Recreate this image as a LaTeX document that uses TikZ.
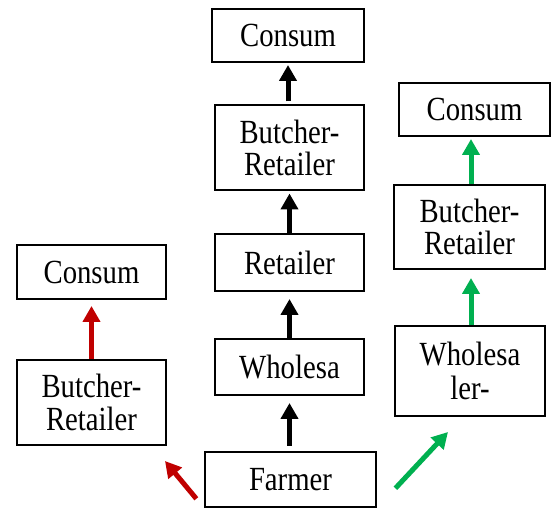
\documentclass[tikz,border=0pt]{standalone}
\usepackage{fontspec}
\setmainfont{Liberation Serif}[FakeStretch=0.85]
\usetikzlibrary{arrows.meta}
\definecolor{chainred}{RGB}{192,0,0}
\definecolor{chaingreen}{RGB}{0,176,80}
\tikzset{
  stage/.style={draw, line width=1pt, inner sep=0pt, align=center,
    minimum width=74.5pt, font=\fontsize{16.9}{16.4}\selectfont},
  flow/.style={line width=2.5pt, -{Triangle[width=8.5pt,length=8pt]}},
}
\begin{document}
\begin{tikzpicture}[x=0.5pt, y=-0.5pt]
  \useasboundingbox (0,0) rectangle (553,508);

  % middle chain
  \node[stage, minimum width=76pt, minimum height=26.5pt] (cco) at (288,35.5) {Consum};
  \node[stage, minimum height=42.5pt] (cbr) at (289.5,148) {Butcher-\\Retailer};
  \node[stage, minimum height=28.5pt] (cre) at (289.5,262.5) {Retailer};
  \node[stage, minimum height=28pt] (cwh) at (289.5,367) {Wholesa};
  \node[stage, minimum width=85.5pt, minimum height=27.5pt] (far) at (290.5,479.5) {Farmer};

  % right chain
  \node[stage, minimum width=75.5pt, minimum height=26.5pt] (rco) at (474.5,109.5) {Consum};
  \node[stage, minimum width=75.5pt, minimum height=42pt] (rbr) at (469.5,227) {Butcher-\\Retailer};
  \node[stage, minimum width=75pt, minimum height=45pt,
    font=\fontsize{16.9}{17.2}\selectfont] (rwh) at (470,371) {Wholesa\\ler-};

  % left chain
  \node[stage, minimum height=27pt] (lco) at (91.5,272) {Consum};
  \node[stage, minimum height=42.5pt] (lbr) at (91.5,402.5) {Butcher-\\Retailer};

  \coordinate (rtip) at (165,461);
  \coordinate (gtip) at (448,432);

  \draw[flow, shorten <=1.5pt, shorten >=1pt] (cbr.north -| cco.south) -- (cco.south);
  \draw[flow, shorten >=1pt] (cre.north) -- (cbr.south);
  \draw[flow, shorten >=3.5pt] (cwh.north) -- (cre.south);
  \draw[flow, shorten <=2.5pt, shorten >=3.5pt] (far.north -| cwh.south) -- (cwh.south);

  \draw[flow, chaingreen, shorten >=1pt] (rbr.north -| 471,0) -- (rco.south -| 471,0);
  \draw[flow, chaingreen, shorten >=4pt] (rwh.north -| 471,0) -- (rbr.south -| 471,0);
  \draw[flow, chaingreen, shorten <=13.5pt] (far.south east) -- (gtip);

  \draw[flow, chainred, shorten >=3pt] (lbr) -- (lco);
  \draw[flow, chainred, shorten <=6pt] (far.south west) -- (rtip);
\end{tikzpicture}
\end{document}
